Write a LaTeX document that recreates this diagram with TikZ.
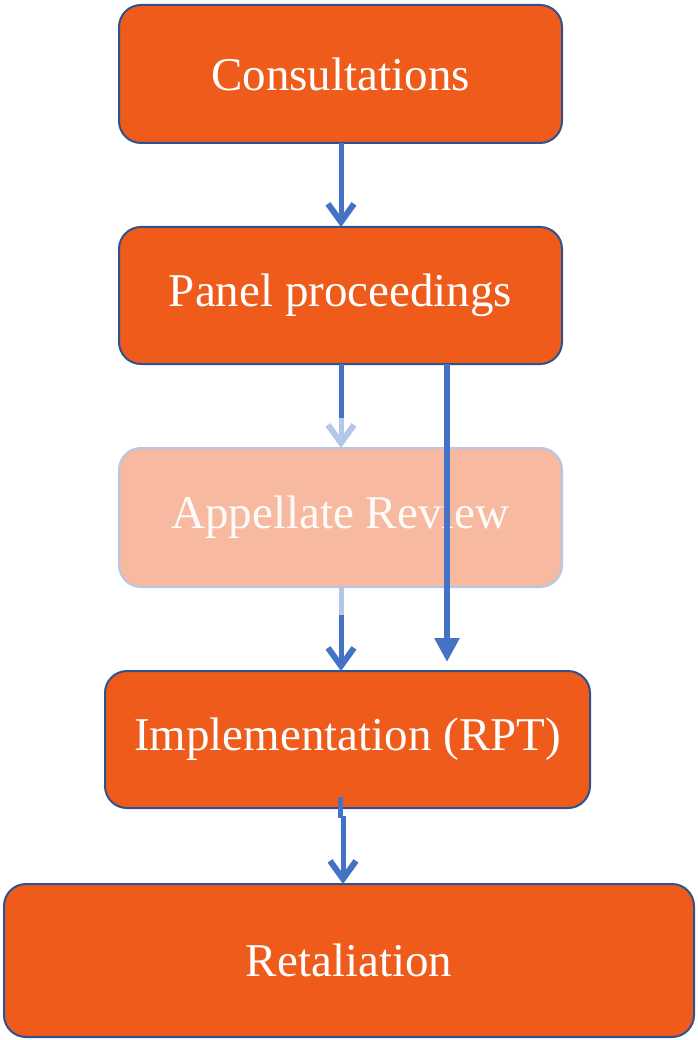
\documentclass[tikz,border=0pt]{standalone}
\usepackage{fontspec}
\setmainfont{Liberation Serif}
\usetikzlibrary{arrows.meta}
\definecolor{boxfill}{HTML}{EF5B1A}
\definecolor{boxline}{HTML}{2F528F}
\definecolor{fadefill}{HTML}{F7BAA0}
\definecolor{fadeline}{HTML}{B4C7E7}
\definecolor{arrblue}{HTML}{4472C4}
\definecolor{fadeblue}{HTML}{B4C7E7}
\tikzset{
  stage/.style={draw=boxline, line width=2pt, fill=boxfill, rounded corners=22pt,
    text=white, font=\fontsize{47}{54}\selectfont, inner sep=0pt, outer sep=0pt},
  fadestage/.style={stage, draw=fadeline, fill=fadefill, text=white!94!fadefill},
  flow/.style={draw=arrblue, line width=5pt,
    -{Straight Barb[length=18pt,width=26pt,line width=6pt]}},
  fadeflow/.style={flow, draw=fadeblue},
  plainseg/.style={draw=arrblue, line width=5pt},
  fadeseg/.style={draw=fadeblue, line width=5pt},
  bypass/.style={draw=arrblue, line width=6.5pt,
    -{Triangle[length=24pt,width=24pt]}}
}
\begin{document}
\begin{tikzpicture}[x=1pt,y=-1pt]
\useasboundingbox (0,0) rectangle (697,1040);

\node[stage, minimum width=443pt, minimum height=138pt] (cons) at (340.5,74) {Consultations};
\node[stage, minimum width=443pt, minimum height=137pt] (panel) at (340.5,295.5) {Panel proceedings};
\node[fadestage, minimum width=443pt, minimum height=139pt] (appeal) at (340.5,517.5) {Appellate Review};
\node[stage, minimum width=485pt, minimum height=137pt] (impl) at (347.5,739.5) {Implementation (RPT)};
\node[stage, minimum width=690pt, minimum height=153pt] (retal) at (349,960.5) {Retaliation};

% consultations to panel
\draw[flow] (cons.south -| 341,0) -- (panel.north -| 341,0);

% panel to appellate review: solid start, faded end
\coordinate (pa) at (341,418);
\draw[plainseg] (panel.south -| pa) -- (pa);
\draw[fadeflow] (pa) -- (appeal.north -| pa);

% appellate review to implementation: faded start, solid end
\coordinate (ai) at (341,615);
\draw[fadeseg] (appeal.south -| ai) -- (ai);
\draw[flow] (ai) -- (impl.north -| ai);

% direct route from panel to implementation, drawn over the faded box
\coordinate (by) at (447,662);
\draw[bypass] (panel.south -| by) -- (by);

% implementation to retaliation
\coordinate (ir1) at (340,797);
\coordinate (ir2) at (340,818);
\coordinate (ir3) at (343,816);
\draw[plainseg] (ir1) -- (ir2);
\draw[flow] (ir3) -- (retal.north -| ir3);
\end{tikzpicture}
\end{document}
